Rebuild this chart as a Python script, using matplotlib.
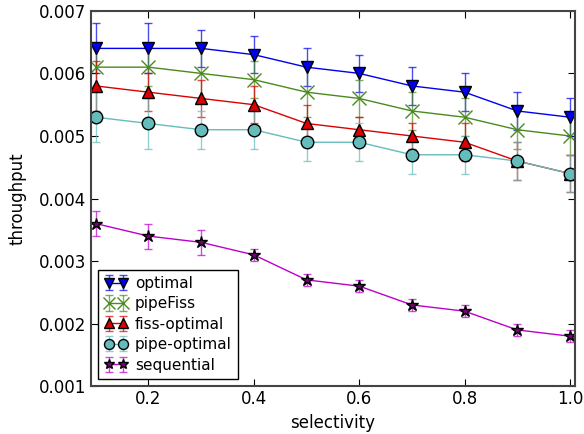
import matplotlib
matplotlib.use('Agg')
import matplotlib.pyplot as plt

# data
selectivity = [0.1, 0.2, 0.3, 0.4, 0.5, 0.6, 0.7, 0.8, 0.9, 1.0]

optimal = [0.0064, 0.0064, 0.0064, 0.0063, 0.0061, 0.0060, 0.0058, 0.0057, 0.0054, 0.0053]
optimal_err = [0.0004, 0.0004, 0.0003, 0.0003, 0.0003, 0.0003, 0.0003, 0.0003, 0.0003, 0.0003]

pipefiss = [0.0061, 0.0061, 0.0060, 0.0059, 0.0057, 0.0056, 0.0054, 0.0053, 0.0051, 0.0050]
pipefiss_err = [0.0003, 0.0003, 0.0004, 0.0003, 0.0004, 0.0003, 0.0003, 0.0003, 0.0003, 0.0003]

fiss_optimal = [0.0058, 0.0057, 0.0056, 0.0055, 0.0052, 0.0051, 0.0050, 0.0049, 0.0046, 0.0044]
fiss_optimal_err = [0.0004, 0.0003, 0.0003, 0.0003, 0.0003, 0.0002, 0.0002, 0.0003, 0.0003, 0.0003]

pipe_optimal = [0.0053, 0.0052, 0.0051, 0.0051, 0.0049, 0.0049, 0.0047, 0.0047, 0.0046, 0.0044]
pipe_optimal_err = [0.0004, 0.0004, 0.0003, 0.0003, 0.0003, 0.0003, 0.0003, 0.0003, 0.0003, 0.0003]

sequential = [0.0036, 0.0034, 0.0033, 0.0031, 0.0027, 0.0026, 0.0023, 0.0022, 0.0019, 0.0018]
sequential_err = [0.0002, 0.0002, 0.0002, 0.0001, 0.0001, 0.0001, 0.0001, 0.0001, 0.0001, 0.0001]

series = [
    ('optimal', optimal, optimal_err, '#0000ee', 'v', '#0000ee'),
    ('pipeFiss', pipefiss, pipefiss_err, '#4a8a1e', 'x', '#4a8a1e'),
    ('fiss-optimal', fiss_optimal, fiss_optimal_err, '#dd0000', '^', '#dd0000'),
    ('pipe-optimal', pipe_optimal, pipe_optimal_err, '#66bbbb', 'o', '#66bbbb'),
    ('sequential', sequential, sequential_err, '#bb00cc', '*', '#770077'),
]

fig, ax = plt.subplots(figsize=(5.84, 4.34), dpi=100)
fig.subplots_adjust(left=0.155, right=0.985, top=0.975, bottom=0.11)

for label, vals, err, col, mk, face in series:
    if mk == 'x':
        cont = ax.errorbar(selectivity, vals, yerr=err, color=col, marker=mk, ms=10, mew=1.0,
                           lw=1, capsize=3, elinewidth=1, ecolor=col, label=label)
    else:
        cont = ax.errorbar(selectivity, vals, yerr=err, color=col, marker=mk, ms=9,
                           mfc=face, mec='black', mew=1.0, lw=1, capsize=3,
                           elinewidth=1, ecolor=col, label=label)
    # error bars look lighter in the reference
    for c in cont[1]:
        c.set_alpha(0.7)
    for c in cont[2]:
        c.set_alpha(0.7)

ax.set_xlim(0.09, 1.01)
ax.set_ylim(0.001, 0.007)
ax.set_xticks([0.2, 0.4, 0.6, 0.8, 1.0])
ax.set_yticks([0.001, 0.002, 0.003, 0.004, 0.005, 0.006, 0.007])
ax.set_xticklabels(['0.2', '0.4', '0.6', '0.8', '1.0'])
ax.set_yticklabels(['0.001', '0.002', '0.003', '0.004', '0.005', '0.006', '0.007'])
ax.tick_params(direction='in', top=True, right=True, labelsize=12, length=5, pad=3)
for sp in ax.spines.values():
    sp.set_color('#444444')
    sp.set_linewidth(1.5)

ax.set_xlabel('selectivity', fontsize=12, labelpad=4)
ax.set_ylabel('throughput', fontsize=12, labelpad=9)

leg = ax.legend(loc='lower left', fontsize=11, fancybox=False, framealpha=1,
                edgecolor='black', numpoints=2, markerscale=0.8,
                handlelength=1.5, handletextpad=0.5,
                borderpad=0.4, labelspacing=0.35, borderaxespad=0.5)
leg.get_frame().set_linewidth(1)

plt.savefig('out.png', dpi=100)
